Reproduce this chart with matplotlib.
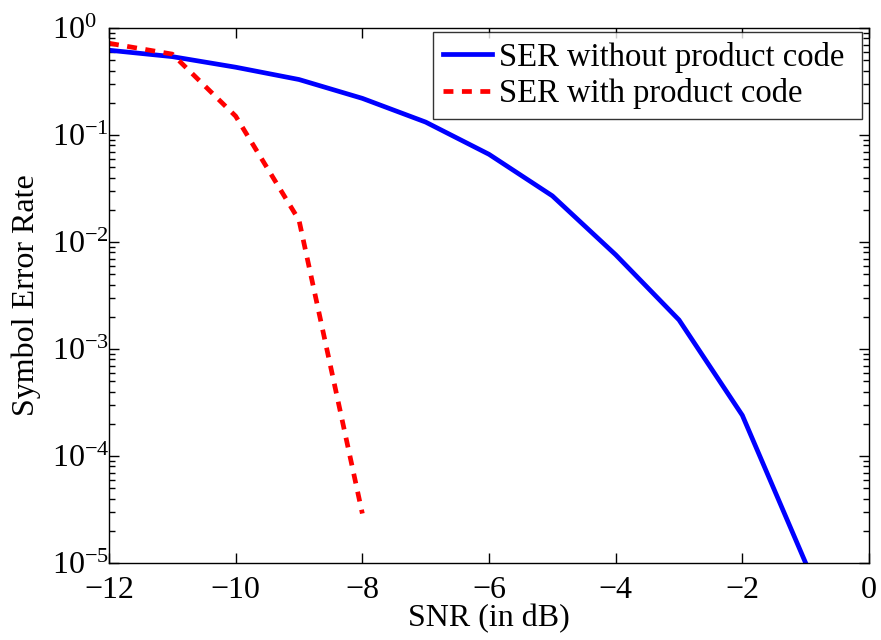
import matplotlib
matplotlib.use("Agg")
import matplotlib.pyplot as plt
from matplotlib.ticker import LogLocator

snr_without = [-12, -11, -10, -9, -8, -7, -6, -5, -4, -3, -2, -1]
ser_without = [0.62, 0.54, 0.43, 0.33, 0.22, 0.132, 0.066, 0.027, 0.0076, 0.00187, 0.00024, 1.0e-5]
snr_with = [-12, -11, -10, -9, -8]
ser_with = [0.72, 0.57, 0.15, 0.016, 2.9e-5]
labels = ['SER without product code', 'SER with product code']

plt.rcParams['font.family'] = ['Liberation Serif', 'DejaVu Serif']
plt.rcParams['mathtext.fontset'] = 'custom'
plt.rcParams['mathtext.rm'] = 'Liberation Serif'
plt.rcParams['mathtext.it'] = 'Liberation Serif:italic'
plt.rcParams['mathtext.bf'] = 'Liberation Serif:bold'
plt.rcParams['axes.unicode_minus'] = True

FS = 23

fig = plt.figure(figsize=(8.81, 6.40), dpi=100)
ax = fig.add_axes([109/881, 1 - 563/640, 760/881, 535/640])

ax.plot(snr_without, ser_without, color='#0000ff', lw=3.4, label=labels[0] + ' ')
ax.plot(snr_with, ser_with, color='#ff0000', lw=3.4, ls=(0, (2.1, 1.8)), label=labels[1] + ' ')

ax.set_yscale('log')
ax.set_xlim(-12, 0)
ax.set_ylim(1e-5, 1)
ax.set_xticks([-12, -10, -8, -6, -4, -2, 0])
ax.yaxis.set_major_locator(LogLocator(base=10, numticks=10))
ax.yaxis.set_minor_locator(LogLocator(base=10, subs=range(2, 10), numticks=20))
ax.tick_params(which='both', direction='in', top=True, right=True, labelsize=FS, width=1.0)
ax.tick_params(which='major', length=7)
ax.tick_params(which='minor', length=4)
ax.tick_params(axis='x', pad=9.5)
ax.tick_params(axis='y', pad=41)
for lab in ax.get_yticklabels():
    lab.set_horizontalalignment('left')
for s in ax.spines.values():
    s.set_linewidth(1.0)

ax.set_xlabel('SNR (in dB)', fontsize=FS, labelpad=-1)
ax.set_ylabel('Symbol Error Rate', fontsize=FS, labelpad=8)

leg = ax.legend(loc='upper right', bbox_to_anchor=(1 - 7/760, 1 - 4/535),
                prop={'size': 23.5}, frameon=True, fancybox=False,
                edgecolor='black', handlelength=1.5, handletextpad=0.2,
                borderpad=0.3, labelspacing=0.17, borderaxespad=0.0)
leg.get_frame().set_linewidth(1.0)

fig.savefig('out.png', dpi=100)
